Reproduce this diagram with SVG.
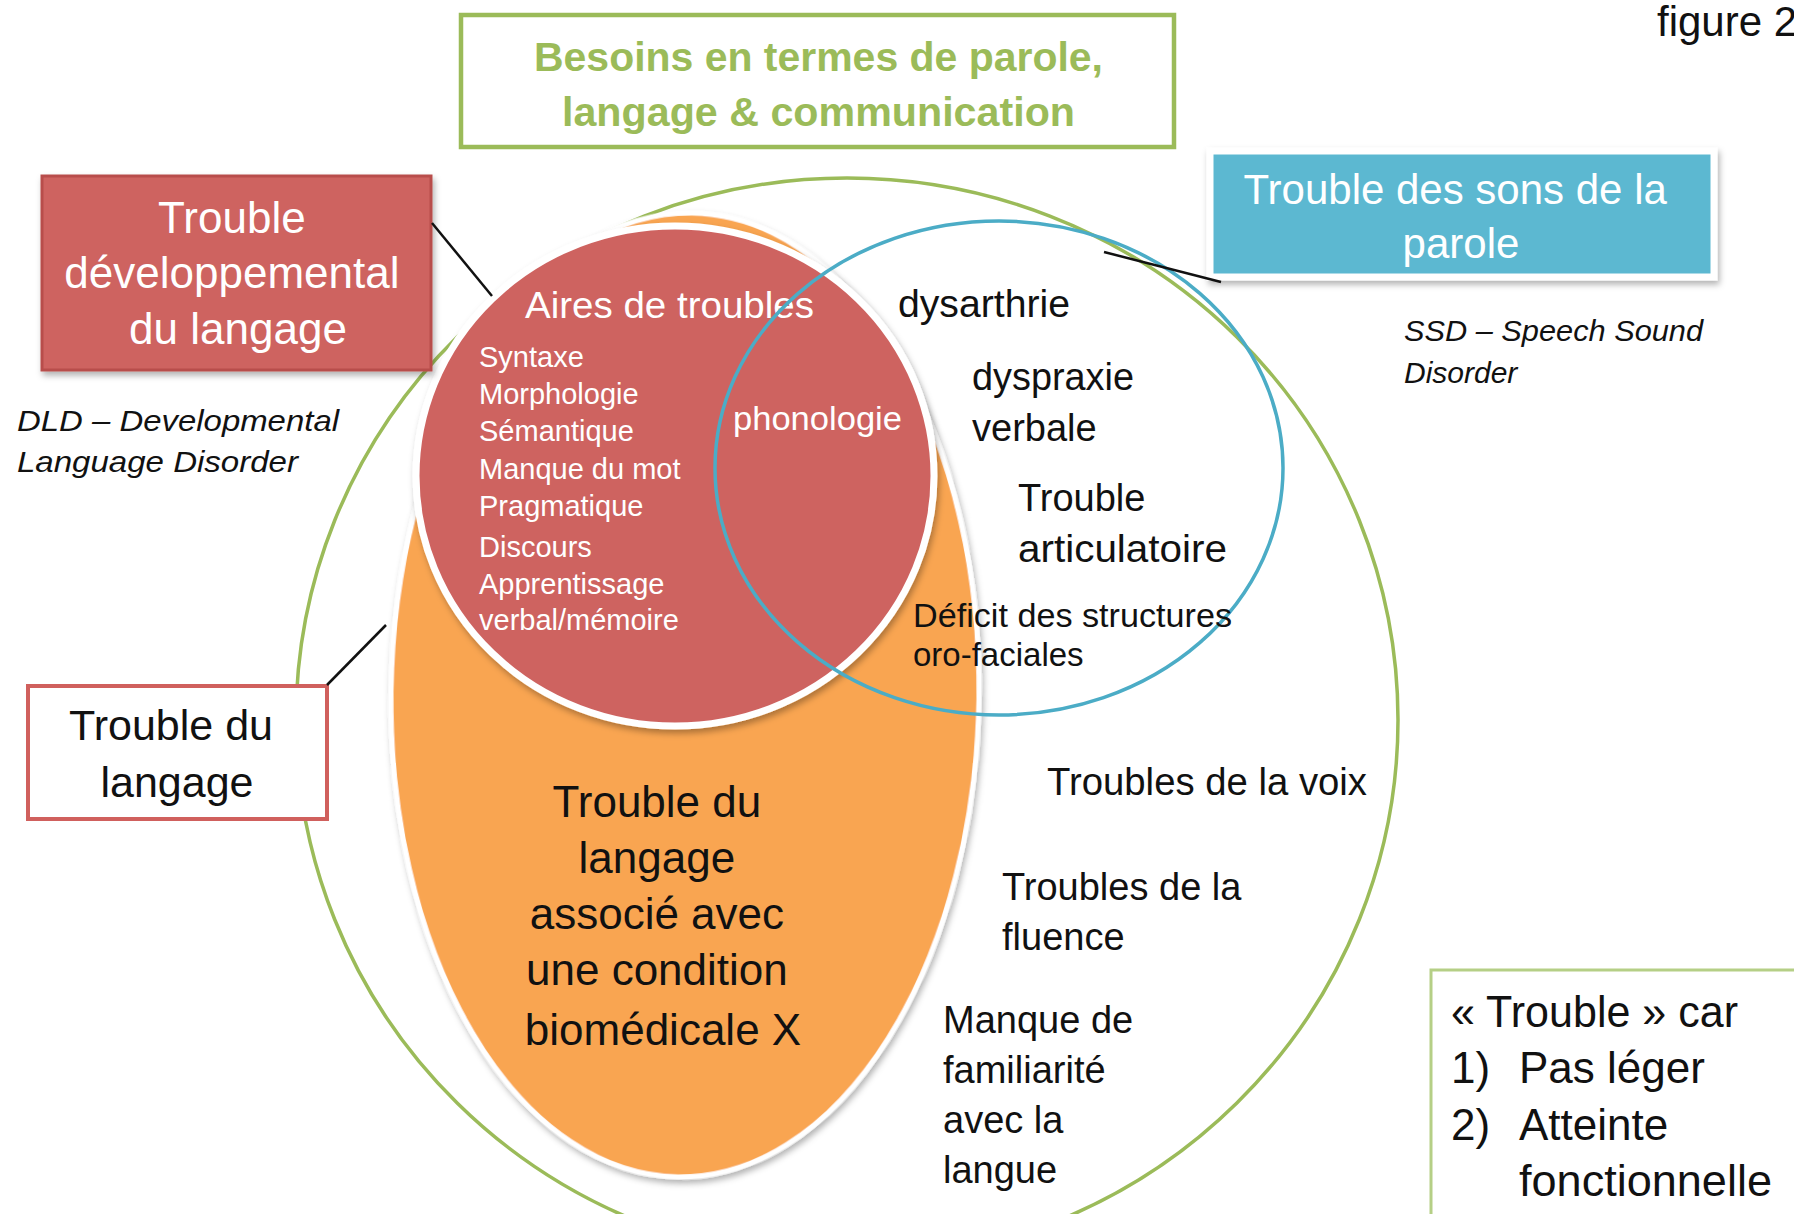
<svg xmlns="http://www.w3.org/2000/svg" width="1794" height="1214" viewBox="0 0 1794 1214">
<defs>
<filter id="sh" x="-10%" y="-10%" width="125%" height="125%">
<feDropShadow dx="2" dy="4" stdDeviation="3" flood-color="#000" flood-opacity="0.3"/>
</filter>
</defs>
<style>
text{font-family:"Liberation Sans",Arial,sans-serif}
.w{fill:#ffffff}
.k{fill:#111111}
.g{fill:#9BBB59;font-weight:bold}
.it{font-style:italic}
.conn{stroke:#111;stroke-width:2.5;fill:none}
</style>
<rect width="1794" height="1214" fill="#ffffff"/>

<g id="outer-ellipse">
<ellipse cx="847" cy="720" rx="551" ry="542" fill="none" stroke="#9BBB59" stroke-width="3.5"/>
</g>

<g id="title">
<rect x="461" y="15" width="713" height="132" fill="#ffffff" stroke="#9BBB59" stroke-width="4.5"/>
<text class="g" x="534" y="71" font-size="41" textLength="569" lengthAdjust="spacingAndGlyphs">Besoins en termes de parole,</text>
<text class="g" x="562" y="126" font-size="41" textLength="513" lengthAdjust="spacingAndGlyphs">langage &amp; communication</text>
</g>

<g id="figure-label">
<text class="k" x="1657" y="36" font-size="42">figure 2</text>
</g>

<g id="biomedical">
<ellipse cx="685" cy="695" rx="294" ry="482" fill="#F9A551" stroke="#ffffff" stroke-width="5" filter="url(#sh)" transform="rotate(0.8 685 695)"/>
<text class="k" font-size="44" text-anchor="middle">
<tspan x="663" y="817">Trouble du</tspan>
<tspan x="663" y="873">langage</tspan>
<tspan x="663" y="929">associé avec</tspan>
<tspan x="663" y="985">une condition</tspan>
<tspan x="663" y="1045">biomédicale X</tspan>
</text>
</g>

<g id="dld-circle">
<ellipse cx="675" cy="476" rx="259" ry="250" fill="#CE6461" stroke="#ffffff" stroke-width="7" filter="url(#sh)"/>
<text class="w" x="525" y="318" font-size="37" textLength="289" lengthAdjust="spacingAndGlyphs">Aires de troubles</text>
<text class="w" font-size="29">
<tspan x="479" y="367">Syntaxe</tspan>
<tspan x="479" y="404">Morphologie</tspan>
<tspan x="479" y="441">Sémantique</tspan>
<tspan x="479" y="479">Manque du mot</tspan>
<tspan x="479" y="516">Pragmatique</tspan>
<tspan x="479" y="557">Discours</tspan>
<tspan x="479" y="594">Apprentissage</tspan>
<tspan x="479" y="630">verbal/mémoire</tspan>
</text>
<text class="w" x="733" y="430" font-size="34" textLength="169" lengthAdjust="spacingAndGlyphs">phonologie</text>
</g>

<g id="ssd-circle">
<ellipse cx="999" cy="468" rx="284" ry="247" fill="none" stroke="#4BACC6" stroke-width="3.5"/>
<text class="k" x="898" y="317" font-size="38" textLength="172" lengthAdjust="spacingAndGlyphs">dysarthrie</text>
<text class="k" x="972" y="390" font-size="38" textLength="162" lengthAdjust="spacingAndGlyphs">dyspraxie</text>
<text class="k" x="972" y="441" font-size="38">verbale</text>
<text class="k" x="1018" y="511" font-size="38">Trouble</text>
<text class="k" x="1018" y="562" font-size="38" textLength="209" lengthAdjust="spacingAndGlyphs">articulatoire</text>
<text class="k" x="913" y="627" font-size="33" textLength="319" lengthAdjust="spacingAndGlyphs">Déficit des structures</text>
<text class="k" x="913" y="666" font-size="33">oro-faciales</text>
</g>

<g id="outer-labels">
<text class="k" x="1047" y="795" font-size="38" textLength="320" lengthAdjust="spacingAndGlyphs">Troubles de la voix</text>
<text class="k" x="1002" y="900" font-size="38">Troubles de la</text>
<text class="k" x="1002" y="950" font-size="38">fluence</text>
<text class="k" font-size="38">
<tspan x="943" y="1033">Manque de</tspan>
<tspan x="943" y="1083">familiarité</tspan>
<tspan x="943" y="1133">avec la</tspan>
<tspan x="943" y="1183">langue</tspan>
</text>
</g>

<g id="dld-box">
<rect x="42" y="176" width="389" height="194" fill="#CE6461" stroke="#B84E4B" stroke-width="3" filter="url(#sh)"/>
<text class="w" font-size="44" text-anchor="middle">
<tspan x="238" y="233">Trouble</tspan>
<tspan x="238" y="288">développemental</tspan>
<tspan x="238" y="344">du langage</tspan>
</text>
</g>

<g id="dld-caption">
<text class="k it" x="17" y="431" font-size="30" textLength="322" lengthAdjust="spacingAndGlyphs">DLD – Developmental</text>
<text class="k it" x="17" y="472" font-size="30" textLength="281" lengthAdjust="spacingAndGlyphs">Language Disorder</text>
</g>

<g id="ssd-box">
<rect x="1210" y="151" width="504" height="126" fill="#5BB8D1" stroke="#ffffff" stroke-width="7" filter="url(#sh)"/>
<text class="w" font-size="42" text-anchor="middle">
<tspan x="1461" y="204">Trouble des sons de la</tspan>
<tspan x="1461" y="258">parole</tspan>
</text>
</g>

<g id="ssd-caption">
<text class="k it" x="1404" y="341" font-size="30" textLength="299" lengthAdjust="spacingAndGlyphs">SSD – Speech Sound</text>
<text class="k it" x="1404" y="383" font-size="30">Disorder</text>
</g>

<g id="language-box">
<rect x="28" y="686" width="299" height="133" fill="#ffffff" stroke="#D0605D" stroke-width="4"/>
<text class="k" font-size="43" text-anchor="middle">
<tspan x="177" y="740">Trouble du</tspan>
<tspan x="177" y="797">langage</tspan>
</text>
</g>

<g id="trouble-note">
<rect x="1431" y="970" width="420" height="300" fill="#ffffff" stroke="#B5CF86" stroke-width="3"/>
<text class="k" x="1451" y="1027" font-size="44" textLength="287" lengthAdjust="spacingAndGlyphs">« Trouble » car</text>
<text class="k" font-size="44">
<tspan x="1451" y="1083">1)</tspan>
<tspan x="1519" y="1083">Pas léger</tspan>
<tspan x="1451" y="1140">2)</tspan>
<tspan x="1519" y="1140">Atteinte</tspan>
</text>
<text class="k" x="1519" y="1196" font-size="44" textLength="253" lengthAdjust="spacingAndGlyphs">fonctionnelle</text>
</g>

<g id="connectors">
<line class="conn" x1="432" y1="223" x2="492" y2="296"/>
<line class="conn" x1="1104" y1="252" x2="1221" y2="282"/>
<line class="conn" x1="327" y1="685" x2="386" y2="625"/>
</g>
</svg>
